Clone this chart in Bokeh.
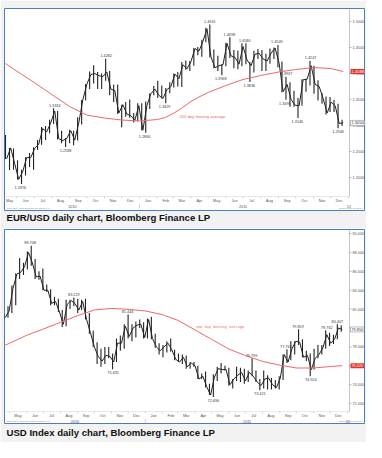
import pandas as pd
from bokeh.plotting import figure
from bokeh.models import Range1d, Label, ColumnDataSource, Title
from bokeh.layouts import column
from bokeh.embed import file_html
from bokeh.resources import INLINE
from bokeh.core.properties import value

# ---------------------------------------------------------------- data
month_labels = ["May", "Jun", "Jul", "Aug", "Sep", "Oct", "Nov", "Dec",
                "Jan", "Feb", "Mar", "Apr", "May", "Jun", "Jul", "Aug",
                "Sep", "Oct", "Nov", "Dec"]
year_labels = ["2010", "2011", "12"]

# EUR/USD, weekly bars (week ending Friday)
eur_week_end = pd.date_range("2010-05-14", "2011-12-23", freq="W-FRI")
eur_high = [
    1.2820, 1.2570, 1.2560,
    1.2330, 1.2150, 1.2390, 1.2470,
    1.2580, 1.2720, 1.2970, 1.2990, 1.3110,
    1.3334, 1.3280, 1.2900, 1.2760,
    1.2920, 1.2900, 1.3160, 1.3490,
    1.3800, 1.4040, 1.4160, 1.4030, 1.4000,
    1.4282, 1.4050, 1.3790, 1.3790,
    1.3400, 1.3450, 1.3500, 1.3240, 1.3430,
    1.3430, 1.3460, 1.3620, 1.3760,
    1.3860, 1.3770, 1.3720, 1.3830,
    1.4000, 1.4030, 1.4220, 1.4250,
    1.4240, 1.4490, 1.4510, 1.4650, 1.4880,
    1.4941, 1.4460, 1.4340, 1.4180,
    1.4590, 1.4698, 1.4450, 1.4440,
    1.4580, 1.4580, 1.4220, 1.4440, 1.4470,
    1.4450, 1.4380, 1.4480, 1.4500,
    1.4549, 1.4230, 1.3937, 1.3830, 1.3670,
    1.3530, 1.3890, 1.3900, 1.4247,
    1.4150, 1.3870, 1.3620, 1.3560,
    1.3550, 1.3490, 1.3420, 1.3110,
]
eur_low = [
    1.2355, 1.2143, 1.2150,
    1.1960, 1.1876, 1.2040, 1.2200,
    1.2150, 1.2530, 1.2630, 1.2720, 1.2850,
    1.3030, 1.2730, 1.2660, 1.2588,
    1.2660, 1.2620, 1.2710, 1.3020,
    1.3480, 1.3700, 1.3810, 1.3700, 1.3700,
    1.3860, 1.3580, 1.3450, 1.3220,
    1.2969, 1.3170, 1.3150, 1.3060, 1.3080,
    1.2910, 1.2860, 1.3320, 1.3580,
    1.3530, 1.3520, 1.3429, 1.3620,
    1.3730, 1.3750, 1.3740, 1.4070,
    1.4050, 1.4150, 1.4350, 1.4320, 1.4600,
    1.4310, 1.4100, 1.4050, 1.3968,
    1.4140, 1.4300, 1.4100, 1.4080,
    1.4140, 1.4180, 1.3836, 1.4020, 1.4280,
    1.4050, 1.4050, 1.4190, 1.4280,
    1.4120, 1.3640, 1.3495, 1.3360, 1.3360,
    1.3146, 1.3380, 1.3650, 1.3770,
    1.3610, 1.3480, 1.3420, 1.3210,
    1.3260, 1.3260, 1.2946, 1.2990,
]
eur_close = [
    1.2360, 1.2570, 1.2270,
    1.1965, 1.2110, 1.2385, 1.2380,
    1.2560, 1.2640, 1.2940, 1.2880, 1.3050,
    1.3280, 1.2750, 1.2710, 1.2750,
    1.2900, 1.2720, 1.3050, 1.3490,
    1.3790, 1.3980, 1.4000, 1.3960, 1.3940,
    1.4030, 1.3700, 1.3670, 1.3240,
    1.3400, 1.3220, 1.3190, 1.3100, 1.3380,
    1.2910, 1.3380, 1.3610, 1.3700,
    1.3580, 1.3520, 1.3690, 1.3750,
    1.3990, 1.3900, 1.4170, 1.4090,
    1.4230, 1.4480, 1.4430, 1.4620, 1.4860,
    1.4320, 1.4110, 1.4150, 1.4170,
    1.4580, 1.4340, 1.4310, 1.4180,
    1.4520, 1.4260, 1.4150, 1.4370, 1.4390,
    1.4280, 1.4240, 1.4390, 1.4490,
    1.4200, 1.3650, 1.3790, 1.3500, 1.3390,
    1.3380, 1.3880, 1.3890, 1.4150,
    1.3790, 1.3750, 1.3520, 1.3240,
    1.3450, 1.3380, 1.3040, 1.3050,
]
eur_ma_dates = ["2010-05-12", "2010-06-01", "2010-07-01", "2010-08-01", "2010-09-01",
                "2010-10-01", "2010-11-01", "2010-12-01", "2011-01-01", "2011-02-01",
                "2011-02-15", "2011-03-01", "2011-03-15", "2011-04-01", "2011-04-15",
                "2011-05-01", "2011-06-01", "2011-07-01", "2011-08-01", "2011-09-01",
                "2011-10-01", "2011-11-01", "2011-12-01", "2011-12-23"]
eur_ma = [1.4192, 1.4044, 1.3827, 1.3596, 1.3365,
          1.3202, 1.3144, 1.3106, 1.3087, 1.3115,
          1.3154, 1.3231, 1.3327, 1.3462, 1.3548,
          1.3635, 1.3769, 1.3885, 1.3962, 1.4029,
          1.4077, 1.4115, 1.4096, 1.4038]
eur_ann_dates = ["2010-06-07", "2010-08-06", "2010-08-25", "2010-11-04", "2011-01-10",
                 "2011-02-14", "2011-05-04", "2011-05-23", "2011-06-07", "2011-07-04",
                 "2011-07-12", "2011-08-29", "2011-09-15", "2011-09-12", "2011-10-04",
                 "2011-10-27", "2011-12-14"]
eur_ann_values = [1.1876, 1.3334, 1.2588, 1.4282, 1.2860,
                  1.3429, 1.4941, 1.3968, 1.4698, 1.4580,
                  1.3836, 1.4549, 1.3937, 1.3495, 1.3146,
                  1.4247, 1.2946]
eur_ann_text = ["1.1876", "1.3334", "1.2588", "1.4282", "1.2860",
                "1.3429", "1.4941", "1.3968", "1.4698", "1.4580",
                "1.3836", "1.4549", "1.3937", "1.3495", "1.3146",
                "1.4247", "1.2946"]
eur_ann_side = ["lo", "hi", "lo", "hi", "lo", "lo", "hi", "lo", "hi", "hi",
                "lo", "hi", "hi", "lo", "lo", "hi", "lo"]
eur_yticks = [1.20, 1.25, 1.30, 1.35, 1.40, 1.45, 1.50]
eur_ytick_labels = ["1.20000", "1.25000", "1.30000", "1.35000", "1.40000", "1.45000", "1.50000"]

# USD index, weekly bars (week ending Friday)
usd_week_end = pd.date_range("2010-04-23", "2011-12-23", freq="W-FRI")
usd_high = [
    81.40, 82.30,
    84.50, 85.80, 87.40, 86.90,
    88.10, 88.71, 87.30, 86.00,
    86.30, 84.60, 84.10, 83.30, 83.10,
    81.90, 83.00, 83.00, 83.23,
    83.10, 83.00, 83.10, 81.60,
    79.70, 78.50, 77.80, 78.00, 78.00,
    77.30, 78.90, 79.20, 80.40,
    81.44, 80.40, 80.70, 80.90, 80.60,
    81.00, 81.20, 79.40, 78.40,
    78.20, 78.60, 78.90, 77.70,
    77.30, 77.20, 77.10, 76.40,
    76.40, 76.00, 75.20, 75.40, 74.10,
    75.10, 75.90, 76.30, 76.00,
    75.80, 74.60, 75.90, 75.80,
    75.70, 75.50, 76.80, 75.50, 74.60,
    75.50, 75.00, 74.70, 74.50,
    74.90, 77.20, 77.76, 78.60, 78.60,
    79.86, 78.80, 77.60, 77.30,
    77.80, 78.20, 78.20, 79.76,
    79.50, 79.30, 80.41, 80.30,
]
usd_low = [
    80.90, 81.10,
    81.60, 82.40, 85.20, 85.60,
    86.20, 86.60, 85.20, 85.10,
    84.00, 83.80, 82.40, 82.40, 81.70,
    80.10, 80.20, 82.00, 82.30,
    81.60, 81.90, 80.90, 79.40,
    78.00, 76.20, 75.90, 76.20, 76.80,
    75.63, 76.40, 77.60, 77.80,
    78.90, 78.60, 79.00, 80.00, 78.90,
    78.90, 78.80, 77.90, 77.20,
    76.90, 77.40, 77.50, 76.60,
    76.40, 76.20, 75.70, 75.70,
    75.90, 74.60, 74.60, 73.70, 72.90,
    72.70, 74.40, 75.20, 75.50,
    73.90, 73.60, 74.40, 74.30,
    74.10, 74.30, 74.90, 74.30, 73.42,
    73.60, 73.50, 73.50, 73.60,
    73.50, 74.50, 76.30, 76.60, 77.20,
    78.20, 76.90, 76.50, 74.90,
    75.60, 76.80, 77.20, 77.80,
    78.10, 78.30, 78.80, 79.60,
]
usd_close = [
    81.10, 81.80,
    84.20, 85.70, 85.90, 86.50,
    88.00, 86.90, 85.40, 85.50,
    84.00, 84.00, 82.60, 82.80, 81.70,
    80.40, 82.50, 82.90, 82.60,
    81.90, 82.80, 80.90, 79.50,
    78.00, 77.00, 76.50, 77.10, 77.00,
    76.40, 78.40, 78.40, 80.20,
    79.10, 80.00, 80.30, 80.40, 79.00,
    80.90, 78.90, 78.00, 77.60,
    78.00, 78.40, 77.70, 76.70,
    76.40, 76.90, 75.90, 76.30,
    76.00, 74.60, 74.90, 73.80, 72.90,
    74.80, 75.70, 75.60, 75.60,
    74.00, 74.60, 75.00, 75.30,
    74.40, 75.30, 74.90, 74.30, 73.90,
    74.60, 74.70, 74.00, 73.70,
    74.70, 77.20, 76.40, 77.80, 78.60,
    78.50, 76.90, 77.10, 75.60,
    76.80, 77.20, 77.90, 79.30,
    78.40, 78.80, 80.00, 79.85,
]
usd_ma_dates = ["2010-04-23", "2010-05-01", "2010-06-01", "2010-07-01", "2010-08-01",
                "2010-09-01", "2010-10-01", "2010-11-01", "2010-12-01", "2011-01-01",
                "2011-02-01", "2011-03-01", "2011-04-01", "2011-05-01", "2011-06-01",
                "2011-07-01", "2011-08-01", "2011-09-01", "2011-10-01", "2011-11-01",
                "2011-12-01", "2011-12-23"]
usd_ma = [78.19, 78.39, 79.24, 79.90, 80.60,
          81.31, 81.91, 82.07, 81.98, 81.81,
          81.41, 80.81, 79.80, 78.79, 77.78,
          77.08, 76.47, 76.07, 75.77, 75.77,
          75.92, 76.02]
usd_ann_dates = ["2010-06-07", "2010-08-25", "2010-11-04", "2010-11-30", "2011-05-04",
                 "2011-07-12", "2011-07-27", "2011-09-12", "2011-10-04", "2011-10-27",
                 "2011-11-25", "2011-12-14"]
usd_ann_values = [88.708, 83.229, 75.631, 81.444, 72.696,
                  76.799, 73.421, 77.764, 79.859, 74.924,
                  79.762, 80.407]
usd_ann_text = ["88.708", "83.229", "75.631", "81.444", "72.696",
                "76.799", "73.421", "77.764", "79.859", "74.924",
                "79.762", "80.407"]
usd_ann_side = ["hi", "hi", "lo", "hi", "lo", "hi", "lo", "hi", "hi", "lo", "hi", "hi"]
usd_yticks = [72, 74, 76, 78, 80, 82, 84, 86, 88, 90]
usd_ytick_labels = ["72.000", "74.000", "76.000", "78.000", "80.000",
                    "82.000", "84.000", "86.000", "88.000", "90.000"]

# ---------------------------------------------------------------- style
BLUE = "#4a7ec4"
PAGE = "#f2f2f2"
RED = "#f06666"
INK = "#222222"
TICKC = "#555555"
DAY = 86400000.0
FIG_W = 366
FRAME_L, FRAME_R = 4, 364      # blue box, canvas px
DATA_L, DATA_R = 5, 349        # price area, canvas px
SMALL = "3.8px"


def ms(d):
    return pd.Timestamp(d).value / 1e6


def build(week_end, high, low, close, ma_dates, ma, ann_dates, ann_values, ann_text,
          ann_side, yticks, ytick_labels, dec, x_start, x_end, y_lo, y_hi,
          height, frame_top, frame_bottom, data_top, data_bottom, caption, cap_standoff,
          ma_text_at, ma_text_font, ma_text_size, year_pos):
    x0, x1 = ms(x_start), ms(x_end)
    kx = (x1 - x0) / (DATA_R - DATA_L)
    ky = (y_hi - y_lo) / (data_bottom - data_top)
    xr = Range1d(x0 - (DATA_L - FRAME_L) * kx, x1 + (FRAME_R - DATA_R) * kx)
    yr = Range1d(y_lo - (frame_bottom - data_bottom) * ky, y_hi + (data_top - frame_top) * ky)

    p = figure(width=FIG_W, height=height, output_backend="svg", toolbar_location=None,
               x_range=xr, y_range=yr, x_axis_location=None, y_axis_location=None,
               min_border_left=FRAME_L, min_border_right=FIG_W - FRAME_R,
               min_border_top=frame_top, min_border_bottom=height - frame_bottom)
    p.background_fill_color = "white"
    p.border_fill_color = PAGE
    p.outline_line_color = BLUE
    p.outline_line_width = 1
    p.grid.visible = False

    def px(cx, cy):
        return x0 + (cx - DATA_L) * kx, y_hi - (cy - data_top) * ky

    # price bars
    src = ColumnDataSource(dict(
        xm=[ms(d - pd.Timedelta(days=2)) for d in week_end],
        xe=[ms(d) for d in week_end], hi=high, lo=low, cl=close))
    p.segment(x0="xm", y0="lo", x1="xm", y1="hi", source=src, line_color=INK, line_width=1.1)
    p.line(x="xe", y="cl", source=src, line_color=INK, line_width=1.0)

    # 200 day moving average
    p.line([ms(d) for d in ma_dates], ma, line_color=RED, line_width=1.0)
    p.add_layout(Label(x=ms(ma_text_at[0]), y=ma_text_at[1], text="200 day moving average",
                       text_color=RED, text_font=ma_text_font, text_font_size=ma_text_size,
                       text_baseline="middle", text_align="left"))

    # high / low annotations
    for side, base, off in (("hi", "bottom", -1.5), ("lo", "top", 2.0)):
        idx = [i for i, s in enumerate(ann_side) if s == side]
        p.text(x=[ms(ann_dates[i]) for i in idx], y=[ann_values[i] for i in idx],
               text=[ann_text[i] for i in idx], text_font=value("Liberation Sans"),
               text_font_size=SMALL, text_color="#3a3a4c", text_align="center",
               text_baseline=base, y_offset=off)

    # price scale on the right
    n = len(yticks)
    p.segment(x0=[x1], y0=[y_lo], x1=[x1], y1=[y_hi], line_color="#a0a0a0", line_width=0.6)
    p.segment(x0=[x1] * n, y0=yticks, x1=[x1 + 2 * kx] * n, y1=yticks,
              line_color="#888888", line_width=0.6)
    p.text(x=[x1] * n, y=yticks, text=ytick_labels, x_offset=3,
           text_font=value("Liberation Sans"), text_font_size=SMALL, text_color=TICKC,
           text_align="left", text_baseline="middle")

    # time scale at the bottom
    starts = pd.date_range("2010-05-01", "2011-12-01", freq="MS")
    mids = [max(ms(s + pd.Timedelta(days=15)), x0 + 7 * DAY) for s in starts]
    bounds = [ms(s) for s in starts] + [ms("2012-01-01")]
    p.segment(x0=[x0], y0=[y_lo], x1=[x1], y1=[y_lo], line_color="#dadada", line_width=0.6)
    p.segment(x0=bounds, y0=[y_lo] * len(bounds), x1=bounds,
              y1=[y_lo - 2 * ky] * len(bounds), line_color="#b8b8b8", line_width=0.6)
    p.text(x=mids, y=[y_lo] * len(mids), text=month_labels, y_offset=4.2,
           text_font=value("Liberation Sans"), text_font_size=SMALL, text_color=TICKC,
           text_align="center", text_baseline="middle")
    ypos = [ms(d) for d in year_pos]
    p.text(x=ypos, y=[y_lo] * len(ypos), text=year_labels, y_offset=9.6,
           text_font=value("Liberation Sans"), text_font_size=SMALL, text_color=TICKC,
           text_align="center", text_baseline="middle")
    p.segment(x0=[ms("2011-01-01")], y0=[y_lo - 7.5 * ky], x1=[ms("2011-01-01")],
              y1=[y_lo - 11.5 * ky], line_color="#b8b8b8", line_width=0.6)

    # value boxes on the price scale
    p.add_layout(Label(x=x1, y=ma[-1], text=f"{ma[-1]:.{dec}f}", x_offset=1,
                       text_baseline="middle", text_align="left", text_font="Liberation Sans",
                       text_font_size=SMALL, text_color="white",
                       background_fill_color="#e3342b", padding=1))
    p.add_layout(Label(x=x1, y=close[-1], text=f"{close[-1]:.{dec}f}", x_offset=1,
                       text_baseline="middle", text_align="left", text_font="Liberation Sans",
                       text_font_size=SMALL, text_color="#333333",
                       background_fill_color="white", border_line_color="#777777",
                       border_line_width=0.5, padding=1))

    # small print inside the box
    cx, cy = px(6, frame_bottom - 2)
    p.add_layout(Label(x=cx, y=cy, text="Copyright\u00a9 2011 Bloomberg Finance L.P.",
                       text_font="Liberation Sans", text_font_size="2.4px",
                       text_color="#8a8a8a", text_baseline="middle"))
    cx, cy = px(362, frame_bottom - 2)
    p.add_layout(Label(x=cx, y=cy, text="22-Dec-2011 10:53:10", text_font="Liberation Sans",
                       text_font_size="2.4px", text_color="#8a8a8a", text_baseline="middle",
                       text_align="right"))

    # caption under the box
    p.add_layout(Title(text=caption, align="left", offset=2, standoff=cap_standoff,
                       vertical_align="top", text_font="Liberation Sans",
                       text_font_style="bold", text_font_size="9.6px",
                       text_color="#111111"), "below")
    return p


p1 = build(eur_week_end, eur_high, eur_low, eur_close, eur_ma_dates, eur_ma,
           eur_ann_dates, eur_ann_values, eur_ann_text, eur_ann_side,
           eur_yticks, eur_ytick_labels, 5,
           "2010-05-12", "2012-01-03", 1.1635, 1.5231,
           228, 8, 210, 9, 196, "EUR/USD daily chart, Bloomberg Finance LP", 2,
           ("2011-03-12", 1.3173), "Liberation Sans", "4.2px",
           ["2010-09-06", "2011-07-01", "2012-01-02"])

p2 = build(usd_week_end, usd_high, usd_low, usd_close, usd_ma_dates, usd_ma,
           usd_ann_dates, usd_ann_values, usd_ann_text, usd_ann_side,
           usd_yticks, usd_ytick_labels, 3,
           "2010-04-23 12:00", "2012-01-05", 71.16, 90.32,
           214, 1, 196, 2, 184, "USD Index daily chart, Bloomberg Finance LP", 6,
           ("2011-04-02", 80.15), "Liberation Mono", "3.7px",
           ["2010-08-27", "2011-07-04", "2012-01-02"])

layout = column(p1, p2)
open("out.html", "w").write(file_html(layout, INLINE))
